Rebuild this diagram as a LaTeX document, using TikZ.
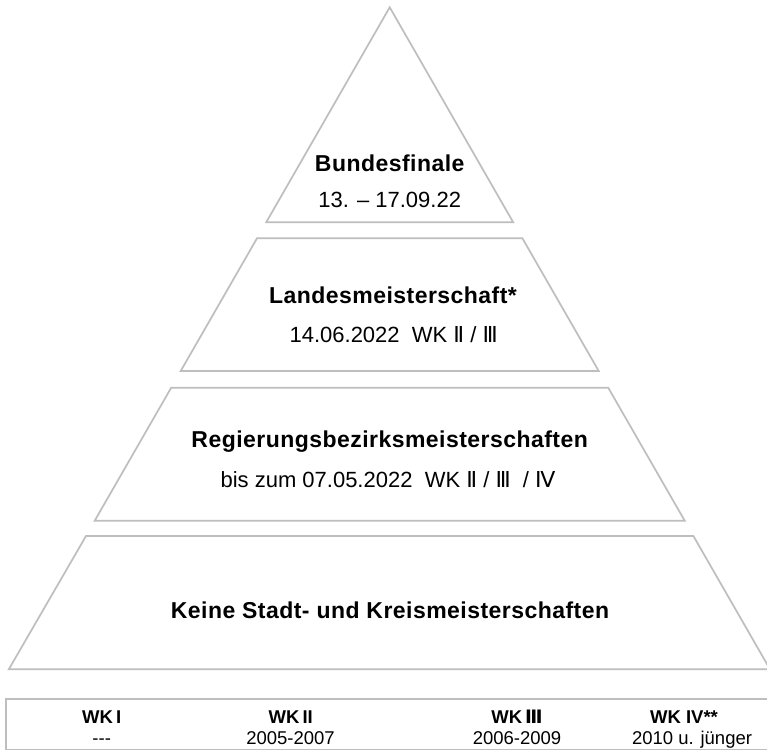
\documentclass[tikz,border=0pt]{standalone}
\usepackage{fontspec}
\setmainfont{Liberation Sans}
\newfontfamily\romfont{DejaVu Sans}
\newcommand{\rom}[1]{{\romfont #1}}
\definecolor{tiergray}{RGB}{190,190,190}
\begin{document}
\begin{tikzpicture}[x=1pt,y=-1pt,
  tier/.style={draw=tiergray, line width=1.7pt, line join=miter},
  ttl/.style={anchor=base, inner sep=0pt, font=\fontsize{23}{26}\selectfont\bfseries\addfontfeatures{LetterSpace=2}},
  sub/.style={anchor=base, inner sep=0pt, font=\fontsize{22}{26}\selectfont},
  thd/.style={anchor=base, inner sep=0pt, font=\fontsize{18.5}{20}\selectfont\bfseries},
  tcell/.style={anchor=base, inner sep=0pt, font=\fontsize{18.5}{20}\selectfont}]
\useasboundingbox (0,0) rectangle (767,750);
\fill[white] (0,0) rectangle (767,750);
% pyramid tiers
\draw[tier] (389.7,7.3) -- (513.2,222.3) -- (266.2,222.3) -- cycle;
\draw[tier] (257,238.3) -- (522.4,238.3) -- (598.7,371) -- (180.7,371) -- cycle;
\draw[tier] (171.2,387.7) -- (608.2,387.7) -- (684.7,520.7) -- (94.7,520.7) -- cycle;
\draw[tier] (86,536) -- (693.4,536) -- (770,669.3) -- (8.8,669.3) -- cycle;
% table frame
\draw[tier] (6,698.8) rectangle (780,749.6);
% texts
\node[ttl] (bf) at (389.7,171.7) {Bundesfinale};
\node[sub] (bfd) at (389.7,207.3) {13. – 17.09.22};
\node[ttl] (lm) at (393,303.3) {Landesmeisterschaft*};
\node[sub] (lmd) at (393.7,342.3) {14.06.2022\ \ WK \rom{Ⅱ} / \rom{Ⅲ}};
\node[ttl] (rb) at (389.7,447.3) {Regierungsbezirksmeisterschaften};
\node[sub] (rbd) at (388,487.7) {bis zum 07.05.2022\ \ WK \rom{Ⅱ} / \rom{Ⅲ}\ \ / \rom{Ⅳ}};
\node[ttl] (ks) at (390,618.3) {Keine Stadt- und Kreismeisterschaften};
% table
\node[thd] (h1) at (101.7,723.3) {WK\,I};
\node[thd] (h2) at (290.8,723.3) {WK\,II};
\node[thd] (h3) at (517,723.3) {WK\,\rom{Ⅲ}};
\node[thd] (h4) at (684,723.3) {WK IV**};
\node[tcell] (c1) at (101.7,744.3) {-{}-{}-};
\node[tcell] (c2) at (290.5,744.3) {2005-2007};
\node[tcell] (c3) at (517,744.3) {2006-2009};
\node[tcell] (c4) at (692,744.3) {2010 u. jünger};
\end{tikzpicture}
\end{document}
